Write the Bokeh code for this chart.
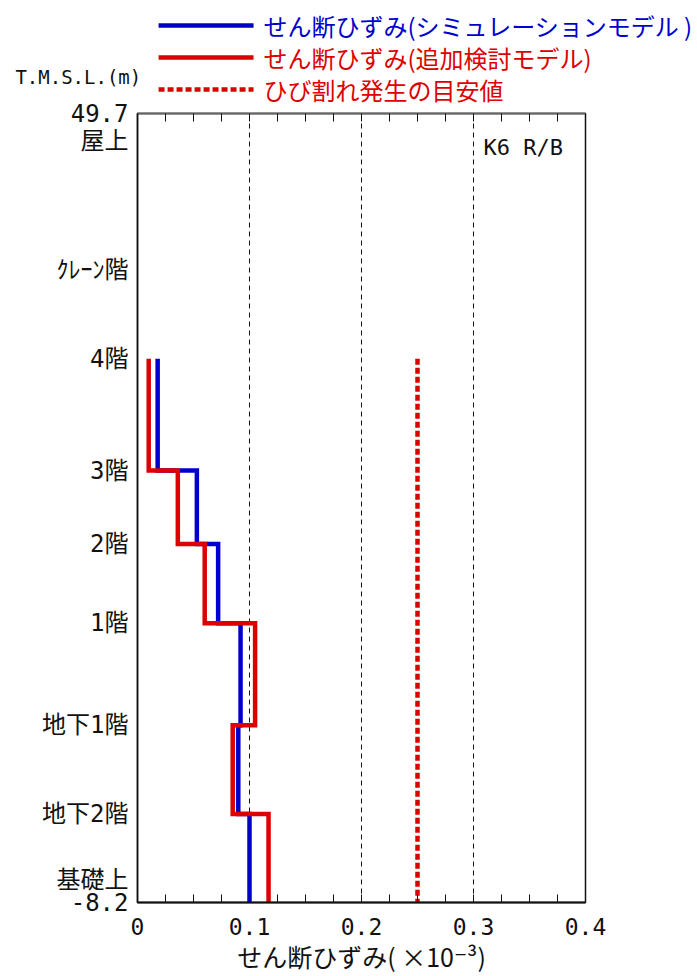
from bokeh.plotting import figure
from bokeh.layouts import column
from bokeh.models import Range1d, LinearAxis, FixedTicker, Label
from bokeh.embed import file_html
from bokeh.resources import INLINE

# Floor levels of the building (T.M.S.L., m), top to bottom
FLOOR_NAMES = ["屋上", "ｸﾚｰﾝ階", "4階", "3階", "2階", "1階", "地下1階", "地下2階", "基礎上"]
FLOOR_ELEV = [49.7, 38.2, 31.7, 23.5, 18.1, 12.3, 4.8, -1.7, -8.2]

# Shear strain per storey (x10^-3), from 4F-3F down to B2-foundation
SIM_STRAIN = [0.018, 0.053, 0.072, 0.092, 0.090, 0.100]   # simulation model
ADD_STRAIN = [0.010, 0.036, 0.060, 0.105, 0.085, 0.117]   # additional study model
CRACK_LIMIT = 0.25                                       # crack-initiation guide value

X_TICKS = [0, 0.1, 0.2, 0.3, 0.4]
X_TICK_LABELS = ["0", "0.1", "0.2", "0.3", "0.4"]
X_MINOR = [0.025, 0.05, 0.075, 0.125, 0.15, 0.175, 0.225, 0.25, 0.275,
           0.325, 0.35, 0.375]

SERIES_NAMES = ["せん断ひずみ(シミュレーションモデル )", "せん断ひずみ(追加検討モデル)",
                "ひび割れ発生の目安値"]

BLUE = "#0000cc"
RED = "#dd0000"
INK = "#111111"
JP = "Noto Sans CJK JP"
MONO = "DejaVu Sans Mono"

W = 697
HEAD_H = 111          # legend strip
OVERLAP = 10          # chart canvas slides up under the legend strip
MAIN_H = 976 - HEAD_H + OVERLAP
TOP = 12
LEFT, RIGHT = 137, 112
X0, X1 = 0, 0.4
PX_PER_X = (W - LEFT - RIGHT) / (X1 - X0)

# ---------------- main chart ----------------
p = figure(width=W, height=MAIN_H, output_backend="svg", toolbar_location=None,
           x_range=Range1d(X0, X1), y_range=Range1d(FLOOR_ELEV[-1], FLOOR_ELEV[0]),
           x_axis_location=None, y_axis_location=None,
           min_border_left=LEFT, min_border_right=RIGHT,
           min_border_top=TOP, min_border_bottom=74)
p.frame_align = False
p.margin = (-OVERLAP, 0, 0, 0)
p.background_fill_color = "white"
p.border_fill_alpha = 0
p.outline_line_color = INK
p.outline_line_width = 1.5
p.ygrid.visible = False

px_per_m = (MAIN_H - TOP - 74) / (FLOOR_ELEV[0] - FLOOR_ELEV[-1])


def make_xaxis(show_labels):
    ax = LinearAxis(ticker=FixedTicker(ticks=X_TICKS, minor_ticks=X_MINOR))
    ax.major_tick_in = 8
    ax.major_tick_out = 0
    ax.minor_tick_in = 8
    ax.minor_tick_out = 0
    ax.major_tick_line_color = INK
    ax.minor_tick_line_color = INK
    ax.axis_line_color = INK
    ax.axis_line_width = 1.5
    if show_labels:
        ax.major_label_overrides = {t: s for t, s in zip(X_TICKS, X_TICK_LABELS)}
        ax.major_label_text_font = MONO
        ax.major_label_text_font_size = "23px"
        ax.major_label_text_color = INK
        ax.major_label_standoff = 15
        ax.axis_label = "せん断ひずみ( ×10⁻³)"
        ax.axis_label_text_font = JP + ", DejaVu Sans"
        ax.axis_label_text_font_size = "25px"
        ax.axis_label_text_font_style = "normal"
        ax.axis_label_text_color = INK
        ax.axis_label_standoff = 0
    else:
        ax.major_label_text_font_size = "0px"
        ax.major_label_text_alpha = 0
    return ax


bottom = make_xaxis(True)
bottom.axis_line_width = 2
p.add_layout(bottom, "below")
top = make_xaxis(False)
top.axis_line_color = "#666666"
top.axis_line_width = 2
p.add_layout(top, "above")

# left axis: floor names at their levels, with the top/bottom elevations;
# the roof and foundation names sit just below / above their elevation value
name_shift = {FLOOR_ELEV[0]: -27 / px_per_m, FLOOR_ELEV[-1]: 23 / px_per_m}
y_ticks, y_labels = [], []
for name, elev in zip(FLOOR_NAMES, FLOOR_ELEV):
    pos = round(elev + name_shift.get(elev, 0), 4)
    y_ticks.append(pos)
    y_labels.append(name)
for elev in (FLOOR_ELEV[0], FLOOR_ELEV[-1]):
    y_ticks.append(elev)
    y_labels.append(f"{elev:.1f}")

yax = LinearAxis(ticker=FixedTicker(ticks=y_ticks))
yax.major_label_overrides = {t: s for t, s in zip(y_ticks, y_labels)}
yax.major_tick_in = 0
yax.major_tick_out = 0
yax.minor_tick_in = 0
yax.minor_tick_out = 0
yax.axis_line_color = INK
yax.axis_line_width = 1.5
yax.major_label_standoff = 9
yax.major_label_text_font = MONO + ", " + JP
yax.major_label_text_font_size = "24px"
yax.major_label_text_color = INK
p.add_layout(yax, "left")

# dashed vertical grid at the labelled strain values
p.xgrid.ticker = FixedTicker(ticks=[0.1, 0.2, 0.3])
p.xgrid.grid_line_color = INK
p.xgrid.grid_line_width = 1
p.xgrid.grid_line_dash = "5 4"

# storey boundaries from 4F down to the foundation
bounds = FLOOR_ELEV[2:]


def step_path(vals):
    xs, ys = [], []
    for i, v in enumerate(vals):
        xs += [v, v]
        ys += [bounds[i], bounds[i + 1]]
    return xs, ys


sx, sy = step_path(SIM_STRAIN)
p.line(sx, sy, line_color=BLUE, line_width=4.5, line_join="miter")
ax_, ay_ = step_path(ADD_STRAIN)
p.line(ax_, ay_, line_color=RED, line_width=4.5, line_join="miter")
p.line([CRACK_LIMIT, CRACK_LIMIT], [bounds[0], bounds[-1]], line_color=RED,
       line_width=4.5, line_dash="6 3")

p.add_layout(Label(x=0.309, y=47.2, text="K6 R/B", text_align="left",
                   text_baseline="middle", text_font=MONO, text_font_size="22px",
                   text_color=INK))

# ---------------- legend header ----------------
# same horizontal scale as the chart; vertical units are pixels from the top
hx0 = X0 - LEFT / PX_PER_X
hx1 = X1 + RIGHT / PX_PER_X
h = figure(width=W, height=HEAD_H, output_backend="svg", toolbar_location=None,
           x_range=Range1d(hx0, hx1), y_range=Range1d(HEAD_H, 0),
           x_axis_location=None, y_axis_location=None,
           min_border=0, outline_line_color=None)
h.frame_align = False
h.grid.visible = False
h.background_fill_color = "white"
h.border_fill_color = "white"

legend_y = [25, 57, 89]
legend_colors = [BLUE, RED, RED]
legend_dash = ["solid", "solid", "6 3"]
for name, ly, col, dash in zip(SERIES_NAMES, legend_y, legend_colors, legend_dash):
    h.line([0.0188, 0.1036], [ly, ly], line_color=col, line_width=4.5, line_dash=dash)
    h.add_layout(Label(x=0.1125, y=ly, text=name, text_align="left",
                       text_baseline="middle", text_font=JP, text_font_size="24px",
                       text_color=col))

h.add_layout(Label(x=-0.109, y=76, text="T.M.S.L.(m)", text_align="left",
                   text_baseline="middle", text_font=MONO, text_font_size="19px",
                   text_color=INK))

layout = column(h, p, spacing=0)
open("out.html", "w").write(file_html(layout, INLINE))
